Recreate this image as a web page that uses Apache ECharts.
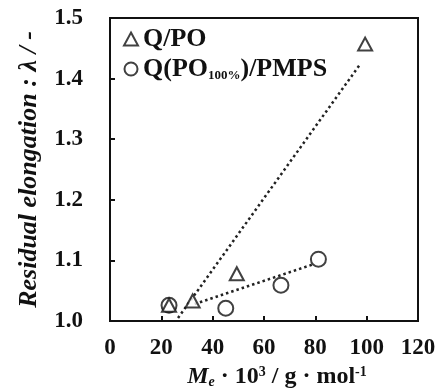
<!DOCTYPE html>
<html><head><meta charset="utf-8">
<script src="https://cdn.jsdelivr.net/npm/echarts@6/dist/echarts.min.js"></script>
<style>html,body{margin:0;padding:0;background:#fff}#c{width:443px;height:390px}</style>
</head><body><div id="c"></div>
<script>
const xTicks = [0, 20, 40, 60, 80, 100, 120];
const yTicks = [1.0, 1.1, 1.2, 1.3, 1.4, 1.5];
const qpoName = 'Q/PO';
const qpoX = [23, 32.2, 49.4, 99.4];
const qpoY = [1.026, 1.033, 1.078, 1.457];
const pmpsName = 'Q(PO100%)/PMPS';
const pmpsX = [23, 45.1, 66.6, 81.2];
const pmpsY = [1.026, 1.021, 1.059, 1.102];
const qpoTrendX = [26.5, 97.5];
const qpoTrendY = [1.005, 1.424];
const pmpsTrendX = [33, 79.5];
const pmpsTrendY = [1.028, 1.094];

const zip = (a, b) => a.map((v, i) => [v, b[i]]);
const F = 'Liberation Serif';
const chart = echarts.init(document.getElementById('c'));
const hollow = { color: '#fff', borderColor: '#111', borderWidth: 2 };
chart.setOption({
  animation: false,
  grid: { left: 110, right: 25, top: 18, bottom: 69, containLabel: false, outerBoundsMode: 'none',
    show: true, borderColor: '#111', borderWidth: 2, backgroundColor: 'transparent' },
  legend: {
    left: 118, top: 21, orient: 'vertical', itemGap: 4, itemWidth: 14, itemHeight: 13,
    data: [qpoName, pmpsName],
    formatter: n => n === pmpsName ? '{a|Q(PO}{s|100%}{a|)/PMPS}' : '{a|' + n + '}',
    textStyle: {
      fontFamily: F, fontWeight: 'bold', fontSize: 26, color: '#111', padding: [0, 0, 0, 0],
      rich: {
        a: { fontFamily: F, fontWeight: 'bold', fontSize: 26, color: '#111' },
        s: { fontFamily: F, fontWeight: 'bold', fontSize: 13, color: '#111', verticalAlign: 'bottom', padding: [12, 0, 0, 0] }
      }
    }
  },
  xAxis: {
    type: 'value', min: 0, max: 120, interval: 20,
    axisLine: { lineStyle: { color: '#111', width: 2 } },
    axisTick: { inside: true, length: 5, lineStyle: { color: '#111', width: 2 }, customValues: xTicks.slice(1, -1) },
    axisLabel: { fontFamily: F, fontWeight: 'bold', fontSize: 23, color: '#111', margin: 16,
      customValues: xTicks },
    splitLine: { show: false },
    name: '{i|M}{ie|e}{n| · 10}{sp|3}{n| / g · mol}{sp|-1}',
    nameLocation: 'middle', nameGap: 43,
    nameTextStyle: {
      padding: [0, 0, 0, 26],
      rich: {
        i: { fontFamily: F, fontWeight: 'bold', fontStyle: 'italic', fontSize: 24, color: '#111' },
        ie: { fontFamily: F, fontWeight: 'bold', fontStyle: 'italic', fontSize: 14, color: '#111', verticalAlign: 'bottom', padding: [9, 0, 0, 0] },
        n: { fontFamily: F, fontWeight: 'bold', fontSize: 24, color: '#111' },
        sp: { fontFamily: F, fontWeight: 'bold', fontSize: 14, color: '#111', verticalAlign: 'top', padding: [0, 0, 9, 0] }
      }
    }
  },
  yAxis: {
    type: 'value', min: 1.0, max: 1.5, interval: 0.1,
    axisLine: { lineStyle: { color: '#111', width: 2 } },
    axisTick: { inside: true, length: 5, lineStyle: { color: '#111', width: 2 }, customValues: yTicks.slice(1, -1) },
    axisLabel: { fontFamily: F, fontWeight: 'bold', fontSize: 23, color: '#111', margin: 27,
      customValues: yTicks, formatter: v => v.toFixed(1) },
    splitLine: { show: false },
    name: 'Residual elongation : λ / -',
    nameLocation: 'middle', nameGap: 68,
    nameTextStyle: { fontFamily: F, fontWeight: 'bold', fontStyle: 'italic', fontSize: 26, color: '#111' }
  },
  series: [
    { type: 'line', data: zip(qpoTrendX, qpoTrendY), symbol: 'none', silent: true,
      lineStyle: { color: '#222', width: 2.5, type: [2.5, 3] } },
    { type: 'line', data: zip(pmpsTrendX, pmpsTrendY), symbol: 'none', silent: true,
      lineStyle: { color: '#222', width: 2.5, type: [2.5, 3] } },
    { name: qpoName, type: 'scatter', data: zip(qpoX, qpoY), symbol: 'triangle', symbolSize: [14, 13], itemStyle: hollow, z: 5 },
    { name: pmpsName, type: 'scatter', data: zip(pmpsX, pmpsY), symbol: 'circle', symbolSize: 15, itemStyle: hollow, z: 4 }
  ]
});
</script></body></html>
